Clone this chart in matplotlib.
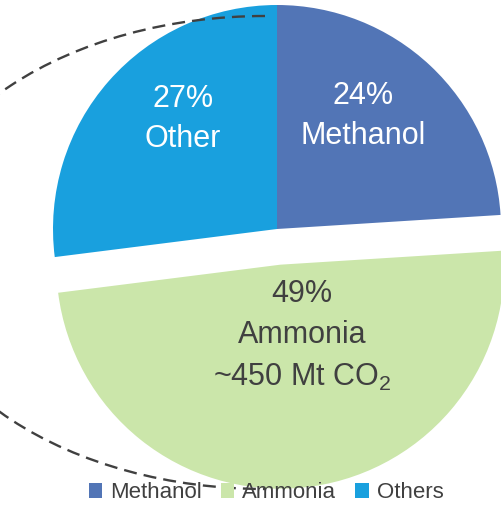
import matplotlib
matplotlib.use("Agg")
import matplotlib.pyplot as plt
from matplotlib.patches import Arc, Patch

FONT = "Liberation Sans"
plt.rcParams['font.family'] = [FONT, 'DejaVu Sans']
plt.rcParams['mathtext.fontset'] = 'custom'
plt.rcParams['mathtext.rm'] = FONT

categories = ["Methanol", "Ammonia", "Others"]
shares = [24, 49, 27]
colors = ["#5275B6", "#CBE6AA", "#19A0DE"]
explode_frac = [0, 0.16, 0]
slice_labels = ["24%\nMethanol", "49%\nAmmonia\n~450 Mt CO$_\\mathrm{2}$", "27%\nOther"]

W, H = 502, 508
fig = plt.figure(figsize=(W / 100, H / 100), dpi=100)
ax = fig.add_axes([0, 0, 1, 1])

cx, cy, r = 277, H - 229, 224
wedges, _ = ax.pie(shares, colors=colors, explode=[e * r for e in explode_frac],
                   startangle=90, counterclock=False, center=(cx, cy), radius=r,
                   wedgeprops=dict(linewidth=0))

ax.set_xlim(0, W)
ax.set_ylim(0, H)
ax.set_aspect('equal')
ax.axis('off')

# slice labels
ax.text(363, H - 116, slice_labels[0], ha='center', va='center', color='white',
        fontsize=22, linespacing=1.45)
ax.text(183, H - 119, slice_labels[2], ha='center', va='center', color='white',
        fontsize=22, linespacing=1.45)
ax.text(302, H - 336, slice_labels[1], ha='center', va='center', color='#404040',
        fontsize=22, linespacing=1.5)

# dashed arc
arc = Arc((265, H - 252.5), 2 * 359, 2 * 236.5, theta1=90, theta2=270,
          color='#404040', lw=1.7, linestyle=(0, (5.5, 3)), zorder=5)
ax.add_patch(arc)

handles = [Patch(facecolor=c, edgecolor='none') for c in colors]
leg = fig.legend(handles, categories, loc='center', bbox_to_anchor=(266 / W, 1 - 493 / H),
                 ncol=3, frameon=False, fontsize=16, handlelength=0.62, handleheight=0.62,
                 handletextpad=0.35, columnspacing=0.85, borderpad=0, borderaxespad=0)
for t in leg.get_texts():
    t.set_color('#404040')

fig.savefig("out.png", dpi=100)
